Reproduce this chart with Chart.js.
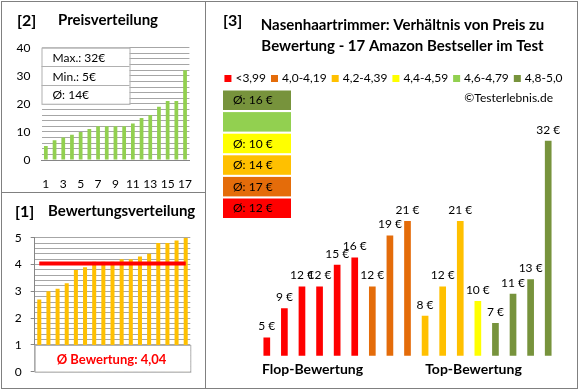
<!DOCTYPE html>
<html lang="de">
<head>
<meta charset="utf-8">
<title>Nasenhaartrimmer: Verhältnis von Preis zu Bewertung</title>
<script src="https://cdn.jsdelivr.net/npm/chart.js@4.4.1/dist/chart.umd.min.js"></script>
<style>
    html, body { margin: 0; padding: 0; background: #fff; }
    #wrap { position: relative; width: 580px; height: 390px; overflow: hidden; }
    .panel { position: absolute; box-sizing: border-box; border: 1px solid #808080; }
    canvas { position: absolute; }
</style>
</head>
<body>
<div id="wrap">
    <div class="panel" style="left:1px;top:1px;width:205px;height:192px"></div>
    <div class="panel" style="left:1px;top:192px;width:205px;height:197px"></div>
    <div class="panel" style="left:205px;top:1px;width:373px;height:388px"></div>
    <canvas id="price-chart" width="205" height="192" style="left:0;top:0"></canvas>
    <canvas id="rating-chart" width="205" height="195" style="left:0;top:193px"></canvas>
    <canvas id="ratio-chart" width="373" height="390" style="left:205px;top:0"></canvas>
</div>
<script>
// --- data ---
const productNumbers = ['1', '2', '3', '4', '5', '6', '7', '8', '9', '10', '11', '12', '13', '14', '15', '16', '17'];

// [2] prices sorted ascending
const priceDistribution = [5, 7, 8, 9, 10, 11, 12, 12, 12, 12, 13, 15, 16, 19, 21, 21, 32];
const priceStats = ['Max.: 32€', 'Min.: 5€', 'Ø: 14€'];

// [1] ratings sorted ascending
const ratings = [2.7, 3.0, 3.1, 3.3, 3.8, 3.9, 4.1, 4.1, 4.1, 4.2, 4.2, 4.3, 4.4, 4.8, 4.8, 4.9, 5.0];
const avgRating = 4.04;
const avgRatingText = 'Ø Bewertung: 4,04';

// [3] prices in rating order
const pricesByRating = [5, 9, 12, 12, 15, 16, 12, 19, 21, 8, 12, 21, 10, 7, 11, 13, 32];

// rating classes
const classLabels = ['<3,99', '4,0-4,19', '4,2-4,39', '4,4-4,59', '4,6-4,79', '4,8-5,0'];
const classMins = [0, 4.0, 4.2, 4.4, 4.6, 4.8];
const classColors = ['#FF0000', '#E46C0A', '#FFC000', '#FFFF00', '#92D050', '#77933C'];
const classAvgPrices = ['Ø: 12 €', 'Ø: 17 €', 'Ø: 14 €', 'Ø: 10 €', '', 'Ø: 16 €'];

const titleLines = ['Nasenhaartrimmer: Verhältnis von Preis zu', 'Bewertung - 17 Amazon Bestseller im Test'];

const FONT = "Lato, 'Open Sans', sans-serif";
Chart.defaults.font.family = FONT;
Chart.defaults.color = '#000';

/**
 * Small panel heading: "[n]" plus a bold caption
 */
function headingPlugin(num, caption, numX, capX, y) {
    return {
        id: 'heading',
        afterDraw(chart) {
            const ctx = chart.ctx;
            ctx.save();
            ctx.fillStyle = '#000';
            ctx.textBaseline = 'middle';
            ctx.font = 'bold 16px ' + FONT;
            ctx.fillText(num, numX, y + 0.5);
            ctx.font = 'bold 15px ' + FONT;
            ctx.fillText(caption, capX, y);
            ctx.restore();
        }
    };
}

function classOf(rating) {
    let idx = 0;
    classMins.forEach((m, i) => { if (rating >= m - 1e-9) idx = i; });
    return idx;
}

const Charts = {
    /**
     * [2] Preisverteilung
     */
    renderPrice() {
        const infoBox = {
            id: 'infoBox',
            afterDraw(chart) {
                const ctx = chart.ctx;
                const y = chart.scales.y;
                const left = chart.chartArea.left;
                const top = y.getPixelForValue(40);
                const bottom = y.getPixelForValue(20);
                const w = 88;
                const rowH = (bottom - top) / priceStats.length;
                ctx.save();
                ctx.fillStyle = '#fff';
                ctx.fillRect(left, top, w, bottom - top);
                ctx.strokeStyle = '#b0b0b0';
                ctx.lineWidth = 1;
                ctx.strokeRect(left + 0.5, top + 0.5, w, bottom - top);
                ctx.font = '12px ' + FONT;
                ctx.fillStyle = '#000';
                ctx.textBaseline = 'middle';
                priceStats.forEach((t, i) => {
                    if (i > 0) {
                        ctx.beginPath();
                        ctx.moveTo(left, Math.round(top + i * rowH) + 0.5);
                        ctx.lineTo(left + w, Math.round(top + i * rowH) + 0.5);
                        ctx.stroke();
                    }
                    ctx.fillText(t, left + 11, top + (i + 0.5) * rowH + 1);
                });
                ctx.restore();
            }
        };

        new Chart(document.getElementById('price-chart'), {
            type: 'bar',
            data: {
                labels: productNumbers,
                datasets: [{
                    data: priceDistribution,
                    backgroundColor: '#92D050',
                    barPercentage: 0.43,
                    categoryPercentage: 1
                }]
            },
            options: {
                responsive: false,
                animation: false,
                layout: { padding: { left: 15.5, right: 15.6, top: 47.7, bottom: 0 } },
                plugins: { legend: { display: false }, tooltip: { enabled: false } },
                scales: {
                    x: {
                        grid: { display: false },
                        border: { color: '#868686' },
                        ticks: {
                            autoSkip: false,
                            maxRotation: 0,
                            padding: 9,
                            font: { size: 12 },
                            callback: (v, i) => (i % 2 === 0 ? productNumbers[i] : '')
                        },
                        afterFit: s => { s.height = 32; }
                    },
                    y: {
                        min: 0,
                        max: 40,
                        border: { display: false },
                        grid: { color: '#a6a6a6', drawTicks: false },
                        ticks: {
                            stepSize: 2,
                            autoSkip: false,
                            padding: 11,
                            font: { size: 12 },
                            callback: v => (v % 10 === 0 ? v : '')
                        },
                        afterFit: s => { s.width = 26; }
                    }
                }
            },
            plugins: [infoBox, headingPlugin('[2]', 'Preisverteilung', 17, 58, 20.5)]
        });
    },

    /**
     * [1] Bewertungsverteilung
     */
    renderRating() {
        const avgBox = {
            id: 'avgBox',
            afterDraw(chart) {
                const ctx = chart.ctx;
                const y = chart.scales.y;
                const { left, right } = chart.chartArea;
                const top = y.getPixelForValue(1);
                const bottom = y.getPixelForValue(0);
                ctx.save();
                ctx.fillStyle = '#fff';
                ctx.fillRect(left, top, right - left, bottom - top);
                ctx.strokeStyle = '#b0b0b0';
                ctx.lineWidth = 1;
                ctx.strokeRect(left + 0.5, top + 0.5, right - left, bottom - top);
                ctx.font = 'bold 13px ' + FONT;
                ctx.fillStyle = '#FF0000';
                ctx.textAlign = 'center';
                ctx.textBaseline = 'middle';
                ctx.fillText(avgRatingText, (left + right) / 2 - 1, (top + bottom) / 2 + 1);
                ctx.restore();
            }
        };

        new Chart(document.getElementById('rating-chart'), {
            type: 'bar',
            data: {
                labels: productNumbers,
                datasets: [{
                    type: 'line',
                    data: productNumbers.map(() => avgRating),
                    borderColor: '#FF0000',
                    borderWidth: 4,
                    pointRadius: 0,
                    order: 0
                }, {
                    data: ratings,
                    backgroundColor: '#FFC000',
                    barPercentage: 0.44,
                    categoryPercentage: 1,
                    order: 1
                }]
            },
            options: {
                responsive: false,
                animation: false,
                layout: { padding: { left: 14.7, right: 14.7, top: 44.7, bottom: 14.7 } },
                plugins: { legend: { display: false }, tooltip: { enabled: false } },
                scales: {
                    x: {
                        grid: { display: false, drawTicks: false },
                        border: { color: '#868686' },
                        ticks: { display: false }
                    },
                    y: {
                        min: 0,
                        max: 5,
                        border: { color: '#868686' },
                        grid: {
                            color: '#a6a6a6',
                            tickLength: 4,
                            tickColor: c => (Math.abs(c.tick.value - Math.round(c.tick.value)) < 1e-6 ? '#868686' : 'rgba(0,0,0,0)')
                        },
                        ticks: {
                            stepSize: 0.2,
                            autoSkip: false,
                            padding: 9,
                            font: { size: 12 },
                            callback: v => (Math.abs(v - Math.round(v)) < 1e-6 ? Math.round(v) : '')
                        },
                        afterFit: s => { s.width = 20; }
                    }
                }
            },
            plugins: [avgBox, headingPlugin('[1]', 'Bewertungsverteilung', 15, 48, 18.5)]
        });
    },

    /**
     * [3] Verhältnis von Preis zu Bewertung
     */
    renderRatio() {
        const decorations = {
            id: 'decorations',
            afterDraw(chart) {
                const ctx = chart.ctx;
                const off = 205; // canvas left in page coords
                ctx.save();
                ctx.fillStyle = '#000';
                ctx.textBaseline = 'middle';

                // heading
                ctx.font = 'bold 16px ' + FONT;
                ctx.fillText('[3]', 223 - off, 20.5);
                ctx.font = 'bold 15px ' + FONT;
                ctx.textAlign = 'center';
                titleLines.forEach((t, i) => ctx.fillText(t, 402.5 - off, 25.5 + i * 21));

                // legend row
                ctx.font = '12px ' + FONT;
                ctx.textAlign = 'left';
                const widths = classLabels.map(t => ctx.measureText(t).width);
                const total = widths.reduce((a, b) => a + b, 0) + classLabels.length * 11 + (classLabels.length - 1) * 5;
                let x = 393.5 - off - total / 2;
                classLabels.forEach((t, i) => {
                    ctx.fillStyle = classColors[i];
                    ctx.fillRect(x, 75, 7, 7);
                    ctx.fillStyle = '#000';
                    ctx.fillText(t, x + 11, 78.5);
                    x += 11 + widths[i] + 5;
                });

                ctx.textAlign = 'right';
                ctx.fillText('©Testerlebnis.de', 553 - off, 98.5);

                // average price boxes, best class on top
                ctx.textAlign = 'left';
                for (let k = 0; k < classLabels.length; k++) {
                    const i = classLabels.length - 1 - k;
                    const top = 90.5 + k * 21.6;
                    ctx.fillStyle = classColors[i];
                    ctx.fillRect(223 - off, top, 68, 19.5);
                    ctx.fillStyle = '#000';
                    ctx.fillText(classAvgPrices[i], 233 - off, top + 10);
                }

                // bottom captions
                const xs = chart.scales.x;
                ctx.font = 'bold 14px ' + FONT;
                ctx.textAlign = 'center';
                ctx.fillText('Flop-Bewertung', xs.getPixelForValue(2.6), 369.5);
                ctx.fillText('Top-Bewertung', xs.getPixelForValue(11.75), 369.5);
                ctx.restore();
            },
            afterDatasetsDraw(chart) {
                const ctx = chart.ctx;
                ctx.save();
                ctx.font = '12px ' + FONT;
                ctx.fillStyle = '#000';
                ctx.textAlign = 'center';
                ctx.textBaseline = 'middle';
                chart.getDatasetMeta(0).data.forEach((bar, i) => {
                    ctx.fillText(pricesByRating[i] + ' €', bar.x, bar.y - 11);
                });
                ctx.restore();
            }
        };

        new Chart(document.getElementById('ratio-chart'), {
            type: 'bar',
            data: {
                labels: productNumbers,
                datasets: [{
                    data: pricesByRating,
                    backgroundColor: ratings.map(r => classColors[classOf(r)]),
                    barPercentage: 0.38,
                    categoryPercentage: 1
                }]
            },
            options: {
                responsive: false,
                animation: false,
                layout: { padding: { left: 53, right: 21, top: 119, bottom: 34.3 } },
                plugins: { legend: { display: false }, tooltip: { enabled: false } },
                scales: {
                    x: { display: false },
                    y: { display: false, min: 2.5, max: 35 }
                }
            },
            plugins: [decorations]
        });
    },

    init() {
        this.renderPrice();
        this.renderRating();
        this.renderRatio();
    }
};

Charts.init();
</script>
</body>
</html>
